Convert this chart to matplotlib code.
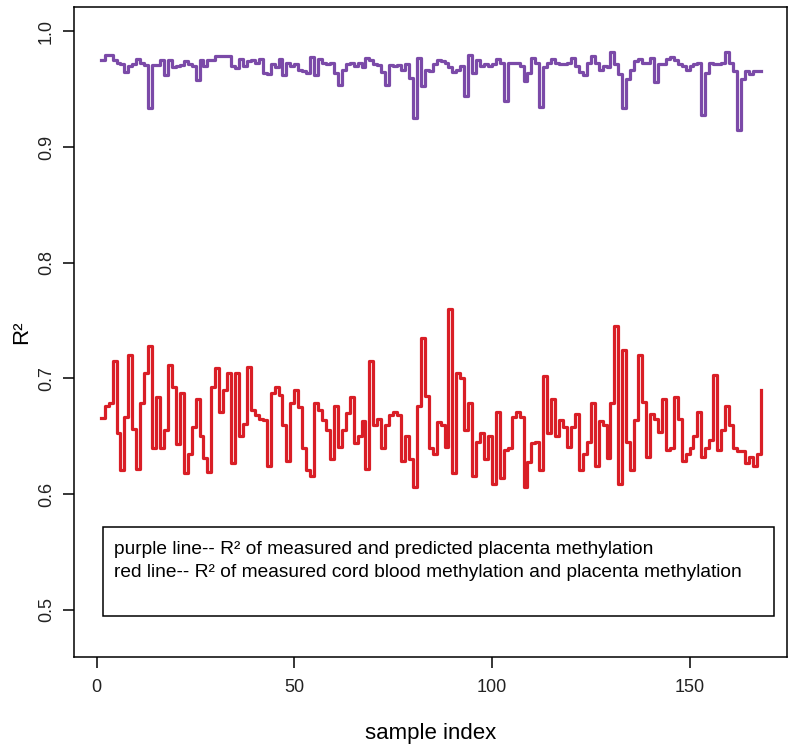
import numpy as np
import matplotlib
matplotlib.use("Agg")
import matplotlib.pyplot as plt
from matplotlib.patches import Rectangle

plt.rcParams["font.family"] = ["Liberation Sans", "DejaVu Sans"]

# R^2 per sample
purple_r2 = [
    0.975, 0.980, 0.980, 0.975, 0.973, 0.972, 0.965, 0.970, 0.972, 0.976,
    0.973, 0.971, 0.934, 0.971, 0.971, 0.975, 0.962, 0.975, 0.969, 0.970,
    0.971, 0.974, 0.972, 0.970, 0.958, 0.975, 0.970, 0.975, 0.975, 0.979,
    0.979, 0.979, 0.979, 0.970, 0.968, 0.976, 0.970, 0.974, 0.975, 0.973,
    0.976, 0.964, 0.963, 0.972, 0.969, 0.976, 0.962, 0.973, 0.970, 0.972,
    0.967, 0.966, 0.964, 0.978, 0.962, 0.976, 0.973, 0.972, 0.973, 0.964,
    0.954, 0.967, 0.972, 0.973, 0.970, 0.973, 0.969, 0.977, 0.975, 0.972,
    0.971, 0.965, 0.954, 0.971, 0.970, 0.971, 0.967, 0.972, 0.960, 0.925,
    0.977, 0.953, 0.967, 0.966, 0.972, 0.975, 0.974, 0.973, 0.969, 0.965,
    0.967, 0.970, 0.944, 0.980, 0.964, 0.975, 0.970, 0.972, 0.970, 0.972,
    0.976, 0.973, 0.940, 0.973, 0.973, 0.973, 0.970, 0.957, 0.964, 0.977,
    0.973, 0.935, 0.969, 0.973, 0.976, 0.973, 0.972, 0.972, 0.973, 0.977,
    0.970, 0.965, 0.962, 0.973, 0.979, 0.973, 0.967, 0.970, 0.969, 0.982,
    0.972, 0.963, 0.934, 0.959, 0.967, 0.974, 0.976, 0.973, 0.973, 0.977,
    0.956, 0.972, 0.972, 0.976, 0.978, 0.975, 0.972, 0.970, 0.967, 0.970,
    0.972, 0.973, 0.928, 0.964, 0.973, 0.972, 0.972, 0.973, 0.982, 0.973,
    0.966, 0.915, 0.959, 0.966, 0.963, 0.966, 0.966, 0.966,
]

red_r2 = [
    0.666, 0.676, 0.679, 0.715, 0.653, 0.621, 0.667, 0.720, 0.656, 0.622,
    0.679, 0.705, 0.728, 0.640, 0.684, 0.640, 0.655, 0.712, 0.693, 0.643,
    0.687, 0.618, 0.635, 0.658, 0.682, 0.650, 0.631, 0.619, 0.693, 0.709,
    0.671, 0.690, 0.705, 0.627, 0.705, 0.650, 0.661, 0.710, 0.673, 0.668,
    0.665, 0.664, 0.624, 0.687, 0.693, 0.686, 0.660, 0.629, 0.679, 0.690,
    0.675, 0.640, 0.621, 0.616, 0.679, 0.673, 0.664, 0.655, 0.630, 0.676,
    0.641, 0.655, 0.670, 0.684, 0.644, 0.650, 0.663, 0.622, 0.715, 0.660,
    0.665, 0.640, 0.660, 0.668, 0.671, 0.668, 0.629, 0.650, 0.630, 0.606,
    0.676, 0.735, 0.685, 0.640, 0.635, 0.662, 0.660, 0.641, 0.760, 0.618,
    0.705, 0.700, 0.655, 0.679, 0.616, 0.645, 0.653, 0.630, 0.650, 0.609,
    0.671, 0.614, 0.638, 0.640, 0.667, 0.671, 0.667, 0.606, 0.628, 0.644,
    0.645, 0.621, 0.702, 0.653, 0.682, 0.650, 0.664, 0.658, 0.641, 0.658,
    0.669, 0.621, 0.635, 0.645, 0.679, 0.624, 0.663, 0.660, 0.631, 0.679,
    0.745, 0.609, 0.725, 0.645, 0.621, 0.664, 0.720, 0.680, 0.632, 0.669,
    0.665, 0.654, 0.682, 0.638, 0.640, 0.684, 0.665, 0.629, 0.635, 0.640,
    0.650, 0.671, 0.632, 0.640, 0.647, 0.703, 0.638, 0.655, 0.676, 0.660,
    0.640, 0.637, 0.637, 0.627, 0.632, 0.624, 0.635, 0.690,
]

x_ticks = [0, 50, 100, 150]
y_ticks = [0.5, 0.6, 0.7, 0.8, 0.9, 1.0]
legend_lines = [
    "purple line-- R\u00b2 of measured and predicted placenta methylation",
    "red line-- R\u00b2 of measured cord blood methylation and placenta methylation",
]

idx = np.arange(1, len(red_r2) + 1)

fig = plt.figure(figsize=(8.0, 7.47), dpi=100)
ax = fig.add_axes([0.0929, 0.1205, 0.8909, 0.8697])

ax.plot(idx, purple_r2, drawstyle="steps-post", color="#7B4AA8", lw=2.3)
ax.plot(idx, red_r2, drawstyle="steps-post", color="#D91E26", lw=2.3)

# R style: 4% padding around the data range
n = len(red_r2)
pad = 0.04 * (n - 1)
ax.set_xlim(1 - pad, n + pad)
ax.set_ylim(0.4592, 1.0208)

ax.set_xticks(x_ticks)
ax.set_xticklabels([str(t) for t in x_ticks], fontsize=13, color="#222222")
ax.set_yticks(y_ticks)
ax.set_yticklabels([f"{t:.1f}" for t in y_ticks], fontsize=13, rotation=90,
                   va="center", color="#222222")
ax.tick_params(direction="out", length=8, width=1.1, pad=8)
ax.tick_params(axis="y", pad=6)

for sp in ax.spines.values():
    sp.set_linewidth(1.1)

ax.set_xlabel("sample index", fontsize=16, labelpad=19)
ax.set_ylabel("R\u00b2", fontsize=16, labelpad=4)

# legend box drawn like the R version
box = Rectangle((1.5, 0.4943), 169.9, 0.077, fill=False, lw=1.1,
                edgecolor="black")
ax.add_patch(box)
ax.text(4.3, 0.5525, legend_lines[0], fontsize=13.8, va="center", ha="left")
ax.text(4.3, 0.5325, legend_lines[1], fontsize=13.8, va="center", ha="left")

fig.savefig("out.png", dpi=100)
